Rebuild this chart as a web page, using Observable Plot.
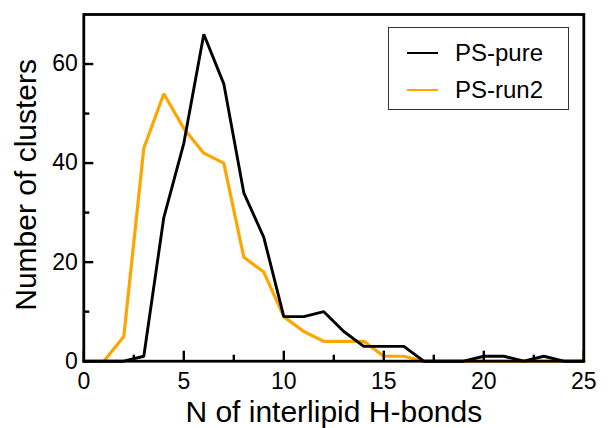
<!DOCTYPE html>
<html><head><meta charset="utf-8">
<script src="https://cdn.jsdelivr.net/npm/d3@7"></script>
<script src="https://cdn.jsdelivr.net/npm/@observablehq/plot@0.6"></script>
<style>
body{margin:0;background:#fff;}
#wrap{position:relative;width:608px;height:428px;font-family:"Liberation Sans",Arial,sans-serif;}
#legend{position:absolute;left:388px;top:27px;width:181px;height:83px;border:1.2px solid #333;box-sizing:border-box;background:#fff;}
.item{position:absolute;left:0;height:30px;display:flex;align-items:center;font-size:24px;color:#000;}
.sw{display:inline-block;width:31px;height:0;margin-left:18px;margin-right:17px;}
</style></head><body><div id="wrap"></div>
<script>
const nBonds = [0,1,2,3,4,5,6,7,8,9,10,11,12,13,14,15,16,17,18,19,20,21,22,23,24,25];
const psPure = [0,0,0,1,29,44,66,56,34,25,9,9,10,6,3,3,3,0,0,0,1,1,0,1,0,0];
const nBondsRun2 = [1,2,3,4,5,6,7,8,9,10,11,12,13,14,15,16,17,18,19,20,21,22,23,24,25];
const psRun2 = [0,5,43,54,47,42,40,21,18,9,6,4,4,4,1,1,0,0,0,0,0,0,0,0,0];
const seriesNames = ["PS-pure", "PS-run2"];
const seriesColors = ["#000000", "#FFA500"];
const xMajor = [0,5,10,15,20,25];
const xMinor = [2.5,7.5,12.5,17.5,22.5];
const yMajor = [0,20,40,60];
const yMinor = [10,30,50];
const xTitle = "N of interlipid H-bonds";
const yTitle = "Number of clusters";

const W = 608, H = 428;
const mL = 83.3, mR = 24.7, mT = 14, mB = 67.3;
const innerW = W - mL - mR, innerH = H - mT - mB;

const pure = nBonds.map((x, i) => ({x, y: psPure[i]}));
const run2 = nBondsRun2.map((x, i) => ({x, y: psRun2[i]}));
const font = "Liberation Sans, Arial, sans-serif";

const chart = Plot.plot({
  width: W, height: H,
  marginLeft: mL, marginRight: mR, marginTop: mT, marginBottom: mB,
  style: {fontFamily: font, background: "#fff", color: "#000"},
  x: {domain: [0, 25]},
  y: {domain: [0, 70]},
  marks: [
    Plot.line(run2, {x: "x", y: "y", stroke: seriesColors[1], strokeWidth: 3.2, strokeLinejoin: "miter"}),
    Plot.line(pure, {x: "x", y: "y", stroke: seriesColors[0], strokeWidth: 2.9, strokeLinejoin: "miter"}),
    Plot.ruleX(xMajor, {x: d => d, insetTop: innerH - 10, stroke: "#000", strokeWidth: 2.4}),
    Plot.ruleX(xMinor, {x: d => d, insetTop: innerH - 6, stroke: "#000", strokeWidth: 2.4}),
    Plot.ruleY(yMajor, {y: d => d, insetRight: innerW - 10, stroke: "#000", strokeWidth: 2.4}),
    Plot.ruleY(yMinor, {y: d => d, insetRight: innerW - 6, stroke: "#000", strokeWidth: 2.4}),
    Plot.axisX({ticks: xMajor, tickSize: 0, tickPadding: 11, fontSize: 23, tickFormat: d => String(d), label: null}),
    Plot.axisY({ticks: yMajor, tickSize: 0, tickPadding: 6, fontSize: 23, tickFormat: d => String(d), label: null}),
    Plot.frame({stroke: "#000", strokeWidth: 2.8}),
    Plot.text([xTitle], {text: d => d, frameAnchor: "bottom", textAnchor: "middle", lineAnchor: "bottom", dy: 61, fontSize: 30}),
    Plot.text([yTitle], {text: d => d, frameAnchor: "left", textAnchor: "middle", lineAnchor: "bottom", rotate: -90, dx: -48.3, dy: -3, fontSize: 30})
  ]
});

const wrap = document.getElementById("wrap");
wrap.appendChild(chart);

const legend = document.createElement("div");
legend.id = "legend";
seriesNames.forEach((name, i) => {
  const item = document.createElement("div");
  item.className = "item";
  item.style.top = (i === 0 ? 10 : 47) + "px";
  const sw = document.createElement("span");
  sw.className = "sw";
  sw.style.borderTop = `2.4px solid ${seriesColors[i]}`;
  item.appendChild(sw);
  item.appendChild(document.createTextNode(name));
  legend.appendChild(item);
});
wrap.appendChild(legend);
</script>
</body></html>
